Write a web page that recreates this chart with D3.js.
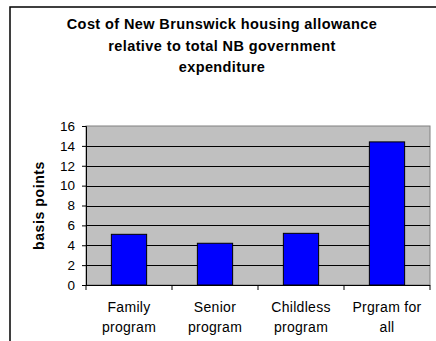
<!DOCTYPE html>
<html>
<head>
<meta charset="utf-8">
<script src="https://cdn.jsdelivr.net/npm/d3@7"></script>
<style>
  body { margin: 0; background: #fff; }
  text { font-family: "Liberation Sans", Arial, sans-serif; fill: #000; }
</style>
</head>
<body>
<div id="chart"></div>
<script>
// data
var categories = [["Family", "program"], ["Senior", "program"], ["Childless", "program"], ["Prgram for", "all"]];
var values = [5.1, 4.2, 5.2, 14.4];
var yTicks = [0, 2, 4, 6, 8, 10, 12, 14, 16];
var titleLines = ["Cost of New Brunswick housing allowance", "relative to total NB government", "expenditure"];

var svgWidth = 436, svgHeight = 341;
var margin = { top: 126, right: 6, bottom: 56, left: 86 };
var width = svgWidth - margin.left - margin.right;
var height = svgHeight - margin.top - margin.bottom;

var svg = d3.select("#chart").append("svg")
    .attr("width", svgWidth)
    .attr("height", svgHeight);

// outer chart frame
svg.append("rect")
    .attr("x", 10).attr("y", 7)
    .attr("width", 440).attr("height", 350)
    .attr("fill", "none")
    .attr("stroke", "#000")
    .attr("stroke-width", 1.5);

// title
svg.append("g").selectAll("text")
    .data(titleLines)
    .enter().append("text")
    .attr("x", 222)
    .attr("y", (d, i) => 29 + i * 21.5)
    .attr("text-anchor", "middle")
    .attr("font-size", "14.5px")
    .attr("font-weight", "bold")
    .attr("letter-spacing", "0.4px")
    .text(d => d);

var chartGroup = svg.append("g")
    .attr("transform", `translate(${margin.left}, ${margin.top})`);

var xScale = d3.scaleBand()
    .domain(d3.range(categories.length))
    .range([0, width])
    .paddingInner(0.59)
    .paddingOuter(0.295);

var yScale = d3.scaleLinear()
    .domain([0, 16])
    .range([height, 0]);

// plot background
chartGroup.append("rect")
    .attr("width", width)
    .attr("height", height)
    .attr("fill", "#c0c0c0")
    .attr("stroke", "#808080")
    .attr("stroke-width", 1);

// gridlines
chartGroup.append("g").selectAll("line")
    .data(yTicks.filter(d => d > 0 && d < 16))
    .enter().append("line")
    .attr("x1", 0).attr("x2", width)
    .attr("y1", d => Math.round(yScale(d)) + 0.5)
    .attr("y2", d => Math.round(yScale(d)) + 0.5)
    .attr("stroke", "#000")
    .attr("stroke-width", 1);

// bars
chartGroup.selectAll(".bar")
    .data(values)
    .enter().append("rect")
    .attr("class", "bar")
    .attr("x", (d, i) => xScale(i))
    .attr("y", d => yScale(d))
    .attr("width", xScale.bandwidth())
    .attr("height", d => height - yScale(d))
    .attr("fill", "#0000ff")
    .attr("stroke", "#000")
    .attr("stroke-width", 1);

// y axis
var leftAxis = d3.axisLeft(yScale).tickValues(yTicks).tickSize(4).tickPadding(7);
var yAxis = chartGroup.append("g").call(leftAxis);
yAxis.selectAll("text").attr("font-size", "13.5px").style("font-family", "Liberation Sans, Arial, sans-serif");
yAxis.selectAll("line, path").attr("stroke", "#000");

// x axis: ticks at category boundaries
var catWidth = width / categories.length;
var xAxis = chartGroup.append("g").attr("transform", `translate(0, ${height})`);
xAxis.append("line")
    .attr("x1", 0).attr("x2", width)
    .attr("y1", 0.5).attr("y2", 0.5)
    .attr("stroke", "#000");
xAxis.selectAll(".tick")
    .data(d3.range(categories.length + 1))
    .enter().append("line")
    .attr("x1", d => d * catWidth).attr("x2", d => d * catWidth)
    .attr("y1", 0).attr("y2", 5)
    .attr("stroke", "#000");

var labels = xAxis.selectAll(".lbl")
    .data(categories)
    .enter().append("text")
    .attr("text-anchor", "middle")
    .attr("font-size", "14px")
    .attr("letter-spacing", "0.3px")
    .attr("transform", (d, i) => `translate(${xScale(i) + xScale.bandwidth() / 2}, 0)`);
labels.selectAll("tspan")
    .data(d => d)
    .enter().append("tspan")
    .attr("x", 0)
    .attr("y", (d, i) => 27 + i * 20)
    .text(d => d);

// axis label
chartGroup.append("text")
    .attr("transform", "rotate(-90)")
    .attr("x", -height / 2)
    .attr("y", -42)
    .attr("text-anchor", "middle")
    .attr("font-size", "14px")
    .attr("font-weight", "bold")
    .attr("letter-spacing", "0.6px")
    .text("basis points");
</script>
</body>
</html>
